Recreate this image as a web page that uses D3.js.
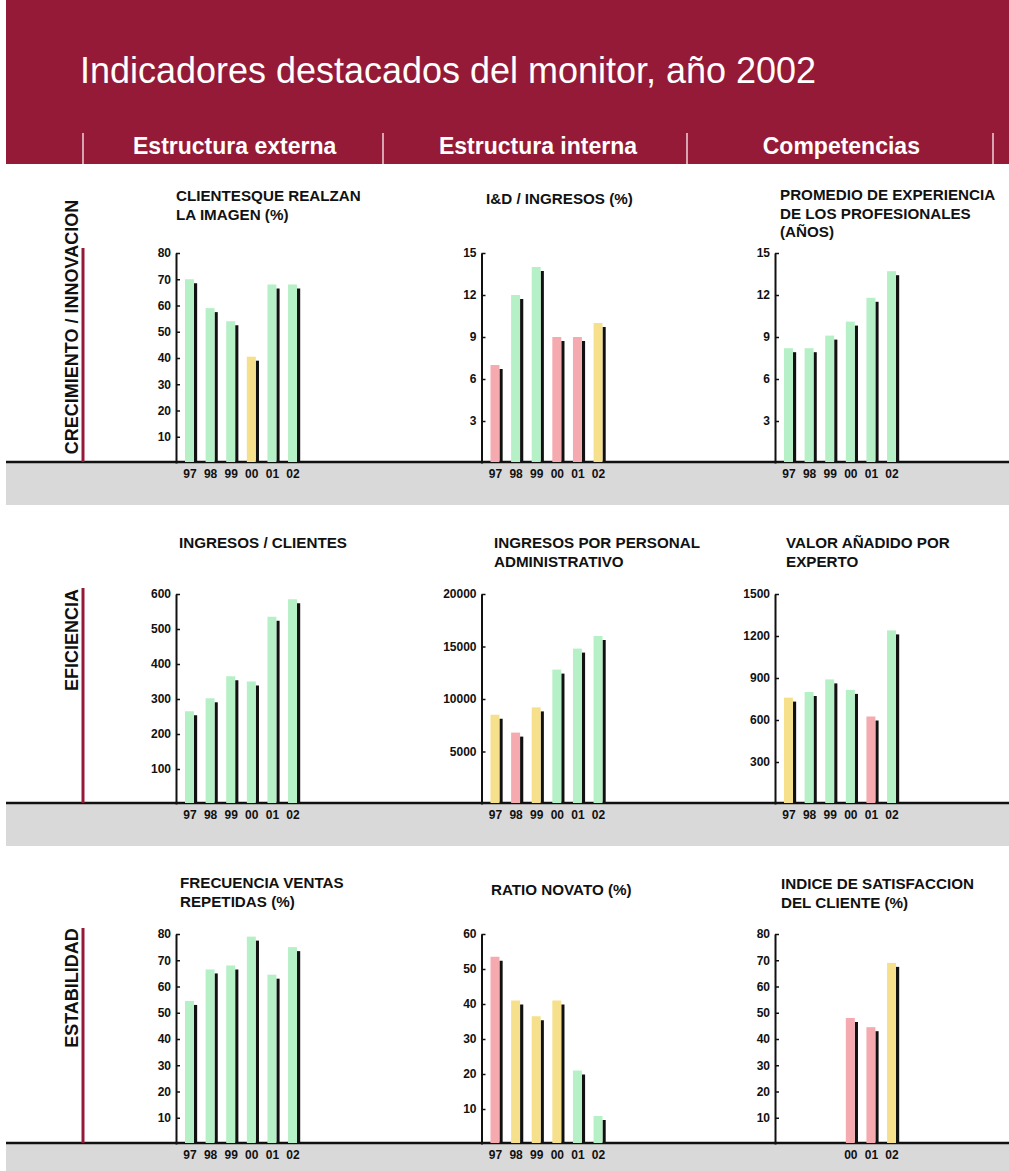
<!DOCTYPE html>
<html>
<head>
<meta charset="utf-8">
<style>
  body { margin: 0; background: #fff; }
  svg { display: block; font-family: "Liberation Sans", Arial, Helvetica, sans-serif; }
  .tick text { font-weight: bold; font-size: 12px; fill: #111; }
</style>
<script src="https://d3js.org/d3.v7.min.js"></script>
</head>
<body>
<svg id="svg" width="1009" height="1171"></svg>
<script>
// ---- data ----
const years = ["97", "98", "99", "00", "01", "02"];
const columnHeads = ["Estructura externa", "Estructura interna", "Competencias"];
const rowLabels = ["CRECIMIENTO / INNOVACION", "EFICIENCIA", "ESTABILIDAD"];

const clientesImagen = [70, 59, 54, 40.5, 68, 68];
const clientesImagenEstado = ["verde", "verde", "verde", "amarillo", "verde", "verde"];

const idIngresos = [7, 12, 14, 9, 9, 10];
const idIngresosEstado = ["rojo", "verde", "verde", "rojo", "rojo", "amarillo"];

const experiencia = [8.2, 8.2, 9.1, 10.1, 11.8, 13.7];
const experienciaEstado = ["verde", "verde", "verde", "verde", "verde", "verde"];

const ingresosClientes = [265, 302, 365, 350, 535, 585];
const ingresosClientesEstado = ["verde", "verde", "verde", "verde", "verde", "verde"];

const ingresosAdmin = [8500, 6800, 9200, 12800, 14800, 16000];
const ingresosAdminEstado = ["amarillo", "rojo", "amarillo", "verde", "verde", "verde"];

const valorExperto = [760, 800, 890, 815, 625, 1240];
const valorExpertoEstado = ["amarillo", "verde", "verde", "verde", "rojo", "verde"];

const ventasRepetidas = [54.5, 66.5, 68, 79, 64.5, 75];
const ventasRepetidasEstado = ["verde", "verde", "verde", "verde", "verde", "verde"];

const ratioNovato = [53.5, 41, 36.5, 41, 21, 8];
const ratioNovatoEstado = ["rojo", "amarillo", "amarillo", "amarillo", "verde", "verde"];

const satisfaccion = [null, null, null, 48, 44.5, 69];
const satisfaccionEstado = [null, null, null, "rojo", "rojo", "amarillo"];

const ticks80 = [10, 20, 30, 40, 50, 60, 70, 80];
const ticks15 = [3, 6, 9, 12, 15];
const ticks600 = [100, 200, 300, 400, 500, 600];
const ticks20000 = [5000, 10000, 15000, 20000];
const ticks1500 = [300, 600, 900, 1200, 1500];
const ticks60 = [10, 20, 30, 40, 50, 60];

const charts = [
  { row: 0, col: 0, title: ["CLIENTESQUE REALZAN", "LA IMAGEN (%)"], values: clientesImagen, status: clientesImagenEstado, ticks: ticks80 },
  { row: 0, col: 1, title: ["I&D / INGRESOS (%)"], values: idIngresos, status: idIngresosEstado, ticks: ticks15 },
  { row: 0, col: 2, title: ["PROMEDIO DE EXPERIENCIA", "DE LOS PROFESIONALES", "(AÑOS)"], values: experiencia, status: experienciaEstado, ticks: ticks15 },
  { row: 1, col: 0, title: ["INGRESOS / CLIENTES"], values: ingresosClientes, status: ingresosClientesEstado, ticks: ticks600 },
  { row: 1, col: 1, title: ["INGRESOS POR PERSONAL", "ADMINISTRATIVO"], values: ingresosAdmin, status: ingresosAdminEstado, ticks: ticks20000 },
  { row: 1, col: 2, title: ["VALOR AÑADIDO POR", "EXPERTO"], values: valorExperto, status: valorExpertoEstado, ticks: ticks1500 },
  { row: 2, col: 0, title: ["FRECUENCIA VENTAS", "REPETIDAS (%)"], values: ventasRepetidas, status: ventasRepetidasEstado, ticks: ticks80 },
  { row: 2, col: 1, title: ["RATIO NOVATO (%)"], values: ratioNovato, status: ratioNovatoEstado, ticks: ticks60 },
  { row: 2, col: 2, title: ["INDICE DE SATISFACCION", "DEL CLIENTE (%)"], values: satisfaccion, status: satisfaccionEstado, ticks: ticks80 }
];

// ---- layout ----
const W = 1009, H = 1171, left = 6;
const red = "#951a38";
const colors = { verde: "#b6f0c6", amarillo: "#f6e08c", rojo: "#f5aab0" };
const baselines = [462, 803, 1143];
const axisX = [176, 481.5, 775];
const titleX = [[176, 486, 780], [179, 494, 786], [180, 491, 781]];
const titleY = [[201, 204, 200], [548, 548, 548], [888, 895, 889]];
const rowLabelY = [327, 640, 988];
const redLineTop = [248, 588, 928];
const plotH = 210;

const svg = d3.select("#svg");

// header
svg.append("rect").attr("x", left).attr("y", 0).attr("width", W - left).attr("height", 164).attr("fill", red);
svg.append("text").attr("x", 80).attr("y", 83)
  .attr("fill", "#fff").style("font-size", "36px")
  .attr("textLength", 736).attr("lengthAdjust", "spacingAndGlyphs")
  .text("Indicadores destacados del monitor, año 2002");

const headX = d3.scaleBand().domain(columnHeads).range([83, 993]);
svg.selectAll(".head").data(columnHeads).enter().append("text")
  .attr("x", d => headX(d) + headX.bandwidth() / 2).attr("y", 154)
  .attr("text-anchor", "middle").attr("fill", "#fff")
  .style("font-size", "23px").style("font-weight", "bold")
  .text(d => d);
svg.selectAll(".sep").data([83, 383, 687, 993]).enter().append("line")
  .attr("x1", d => d).attr("x2", d => d).attr("y1", 133).attr("y2", 164)
  .attr("stroke", "#efd3da").attr("stroke-width", 1.5);

// row bands
baselines.forEach((b, i) => {
  svg.append("rect").attr("x", left).attr("y", b).attr("width", W - left).attr("height", 43).attr("fill", "#d9d9d9");
  svg.append("line").attr("x1", left).attr("x2", W).attr("y1", b).attr("y2", b)
    .attr("stroke", "#111").attr("stroke-width", 2.5);
  svg.append("line").attr("x1", 83).attr("x2", 83).attr("y1", redLineTop[i]).attr("y2", b)
    .attr("stroke", red).attr("stroke-width", 3);
  svg.append("text")
    .attr("transform", `translate(78,${rowLabelY[i]}) rotate(-90)`)
    .attr("text-anchor", "middle").attr("fill", "#111")
    .style("font-size", "18px").style("font-weight", "bold")
    .text(rowLabels[i]);
});

// charts
charts.forEach(c => {
  const base = baselines[c.row];
  const ax = axisX[c.col];
  const g = svg.append("g");

  const x = d3.scaleBand().domain(years).range([ax + 9, ax + 124]).paddingInner(0.42).paddingOuter(0);
  const y = d3.scaleLinear().domain([0, d3.max(c.ticks)]).range([base + 1, base + 1 - plotH]);
  const bw = x.bandwidth() - 3;

  const rows = years.map((yr, i) => ({ yr, v: c.values[i], s: c.status[i] })).filter(d => d.v != null);

  g.selectAll(".shadow").data(rows).enter().append("rect")
    .attr("x", d => x(d.yr) + bw).attr("width", 3.2)
    .attr("y", d => y(d.v) + 4).attr("height", d => base - y(d.v) - 4)
    .attr("fill", "#111");
  g.selectAll(".bar").data(rows).enter().append("rect")
    .attr("x", d => x(d.yr)).attr("width", bw)
    .attr("y", d => y(d.v)).attr("height", d => base - y(d.v))
    .attr("fill", d => colors[d.s]);

  const axis = g.append("g").attr("transform", `translate(${ax},0)`)
    .call(d3.axisLeft(y).tickValues(c.ticks).tickSize(-4).tickSizeOuter(0).tickPadding(5).tickFormat(d3.format("d")));
  axis.select(".domain").attr("stroke", "#111").attr("stroke-width", 2);
  axis.selectAll(".tick line").attr("stroke", "#111").attr("stroke-width", 1.5);

  g.selectAll(".xl").data(rows).enter().append("text")
    .attr("x", d => x(d.yr) + bw / 2 + 0.5).attr("y", base + 16)
    .attr("text-anchor", "middle").attr("fill", "#111")
    .style("font-size", "12px").style("font-weight", "bold")
    .text(d => d.yr);

  g.selectAll(".tt").data(c.title).enter().append("text")
    .attr("x", titleX[c.row][c.col]).attr("y", (d, i) => titleY[c.row][c.col] + i * 18.5)
    .attr("fill", "#111").style("font-size", "15.2px").style("font-weight", "bold")
    .text(d => d);
});
</script>
</body>
</html>
